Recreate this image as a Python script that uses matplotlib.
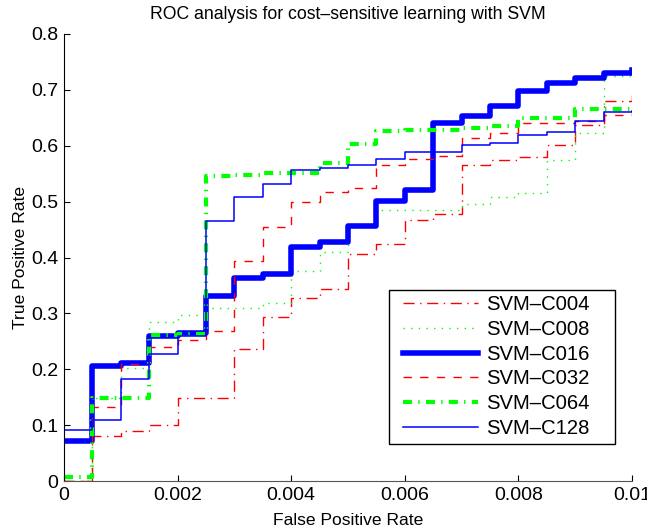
import matplotlib
matplotlib.use("Agg")
import matplotlib.pyplot as plt
from matplotlib.patches import Rectangle

plt.rcParams['font.family'] = ['Liberation Sans', 'DejaVu Sans']
plt.rcParams['lines.scale_dashes'] = False

# step breakpoints (false positive rate)
fpr = [0.0, 0.0005, 0.001, 0.0015, 0.002, 0.0025, 0.003, 0.0035, 0.004, 0.0045, 0.005,
       0.0055, 0.006, 0.0065, 0.007, 0.0075, 0.008, 0.0085, 0.009, 0.0095, 0.01]

# true positive rate for each model
tpr_c004 = [0.0, 0.080, 0.090, 0.100, 0.148, 0.149, 0.236, 0.294, 0.328, 0.344, 0.406,
            0.424, 0.467, 0.477, 0.566, 0.575, 0.580, 0.601, 0.638, 0.680, 0.690]
tpr_c008 = [0.0, 0.149, 0.202, 0.285, 0.297, 0.309, 0.309, 0.319, 0.375, 0.410, 0.457,
            0.485, 0.485, 0.485, 0.496, 0.509, 0.516, 0.575, 0.622, 0.724, 0.728]
tpr_c016 = [0.071, 0.205, 0.212, 0.259, 0.264, 0.331, 0.363, 0.371, 0.419, 0.428, 0.456,
            0.502, 0.521, 0.640, 0.653, 0.671, 0.698, 0.712, 0.722, 0.730, 0.736]
tpr_c032 = [0.0, 0.132, 0.210, 0.240, 0.252, 0.269, 0.393, 0.455, 0.500, 0.518, 0.524,
            0.566, 0.576, 0.582, 0.613, 0.622, 0.640, 0.641, 0.645, 0.655, 0.660]
tpr_c064 = [0.008, 0.149, 0.149, 0.261, 0.263, 0.546, 0.548, 0.552, 0.552, 0.569, 0.604,
            0.627, 0.629, 0.629, 0.631, 0.635, 0.649, 0.649, 0.665, 0.665, 0.666]
tpr_c128 = [0.091, 0.110, 0.183, 0.227, 0.260, 0.466, 0.509, 0.531, 0.557, 0.560, 0.565,
            0.576, 0.588, 0.588, 0.601, 0.605, 0.619, 0.624, 0.644, 0.660, 0.662]

labels = ['SVM–C004', 'SVM–C008', 'SVM–C016', 'SVM–C032', 'SVM–C064', 'SVM–C128']
xtick_vals = [0, 0.002, 0.004, 0.006, 0.008, 0.01]
xtick_labels = ['0', '0.002', '0.004', '0.006', '0.008', '0.01']
ytick_vals = [0, 0.1, 0.2, 0.3, 0.4, 0.5, 0.6, 0.7, 0.8]
ytick_labels = ['0', '0.1', '0.2', '0.3', '0.4', '0.5', '0.6', '0.7', '0.8']

fig = plt.figure(figsize=(6.47, 5.31), dpi=100)
ax = fig.add_axes([64 / 647, 50 / 531, 568 / 647, 447 / 531])

ax.step(fpr, tpr_c004, where='post', color='#ff0000', lw=1.0, dashes=(8, 4, 1, 4), label=labels[0])
ax.step(fpr, tpr_c008, where='post', color='#00ff00', lw=1.0, dashes=(1, 4.5), label=labels[1])
ax.step(fpr, tpr_c016, where='post', color='#0000ff', lw=4.0, label=labels[2])
ax.step(fpr, tpr_c032, where='post', color='#ff0000', lw=1.0, dashes=(6, 6), label=labels[3])
ax.step(fpr, tpr_c064, where='post', color='#00ff00', lw=3.0, dashes=(6.5, 4.5, 1, 4.5), label=labels[4])
ax.step(fpr, tpr_c128, where='post', color='#0000ff', lw=1.1, label=labels[5])

ax.set_xlim(0, 0.01)
ax.set_ylim(0, 0.8)
ax.set_xticks(xtick_vals)
ax.set_xticklabels(xtick_labels)
ax.set_yticks(ytick_vals)
ax.set_yticklabels(ytick_labels)
ax.tick_params(direction='in', length=4, width=0.8, labelsize=14, pad=4)

ax.spines['top'].set_visible(False)
ax.spines['right'].set_visible(False)
ax.spines['left'].set_color('black')
ax.spines['bottom'].set_color('#555555')
for s in ('left', 'bottom'):
    ax.spines[s].set_linewidth(0.8)

ax.set_xlabel('False Positive Rate', fontsize=12.6, labelpad=7)
ax.set_ylabel('True Positive Rate', fontsize=12.6, labelpad=2)
ax.set_title('ROC analysis for cost–sensitive learning with SVM', fontsize=12.7, pad=11)

# legend box drawn by hand so it can be as wide as the original
ax.add_patch(Rectangle((0.572, 0.083), 0.398, 0.344, transform=ax.transAxes,
                       facecolor='white', edgecolor='black', lw=1.0, zorder=4, clip_on=False))
leg = ax.legend(loc='center left', bbox_to_anchor=(0.597, 0.256), fontsize=14.6,
                handlelength=3.7, handletextpad=0.38, labelspacing=0.28,
                borderpad=0, frameon=False, borderaxespad=0)
leg.set_zorder(5)

fig.savefig('out.png', dpi=100)
